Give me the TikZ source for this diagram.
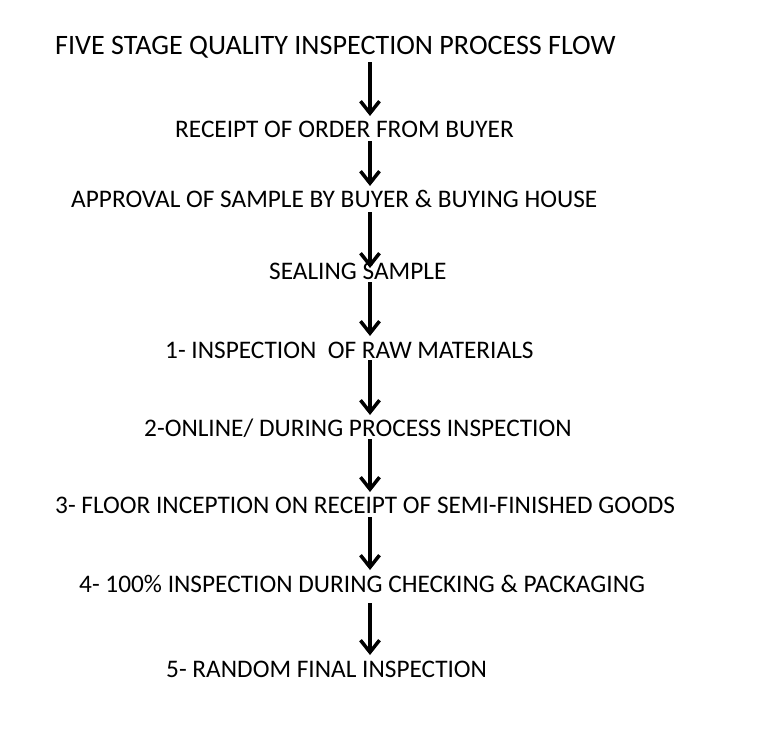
\documentclass[tikz,border=0pt]{standalone}
\usepackage{fontspec}
\setmainfont{Carlito}
\usetikzlibrary{arrows.meta}
\begin{document}
\begin{tikzpicture}[x=1pt,y=-1pt,
  lbl/.style={anchor=west,inner sep=0pt,text height=0.64em,text depth=0pt,font=\fontsize{25.3}{30}\selectfont},
  ttl/.style={lbl,font=\fontsize{28.1}{33}\selectfont},
  flow/.style={line width=3.5pt,-{Straight Barb[length=12pt,width=19pt,line width=3.5pt]}}]
\useasboundingbox (0,0) rectangle (760,745);
\node[ttl] (t0) at (55,51) {FIVE STAGE QUALITY INSPECTION PROCESS FLOW};
\node[lbl] (t1) at (175,134) {RECEIPT OF ORDER FROM BUYER};
\node[lbl] (t2) at (71,204) {APPROVAL OF SAMPLE BY BUYER \& BUYING HOUSE};
\node[lbl] (t3) at (269,276) {SEALING SAMPLE};
\node[lbl] (t4) at (165,355) {1- INSPECTION\ \ OF RAW MATERIALS};
\node[lbl] (t5) at (144,433) {2-ONLINE/ DURING PROCESS INSPECTION};
\node[lbl] (t6) at (55,510) {3- FLOOR INCEPTION ON RECEIPT OF SEMI-FINISHED GOODS};
\node[lbl] (t7) at (79,589) {4- 100\% INSPECTION DURING CHECKING \& PACKAGING};
\node[lbl] (t8) at (166,674) {5- RANDOM FINAL INSPECTION};
\coordinate (s1) at (370,62);  \coordinate (e1) at (370,116);
\coordinate (s2) at (370,141); \coordinate (e2) at (370,186);
\coordinate (s3) at (370,212); \coordinate (e3) at (370,268);
\coordinate (s4) at (370,282); \coordinate (e4) at (370,336);
\coordinate (s5) at (370,360); \coordinate (e5) at (370,415);
\coordinate (s6) at (370,439); \coordinate (e6) at (370,492);
\coordinate (s7) at (370,517); \coordinate (e7) at (370,570);
\coordinate (s8) at (370,603); \coordinate (e8) at (370,655);
\foreach \i in {1,...,8} \draw[flow] (s\i) -- (e\i);
\end{tikzpicture}
\end{document}
